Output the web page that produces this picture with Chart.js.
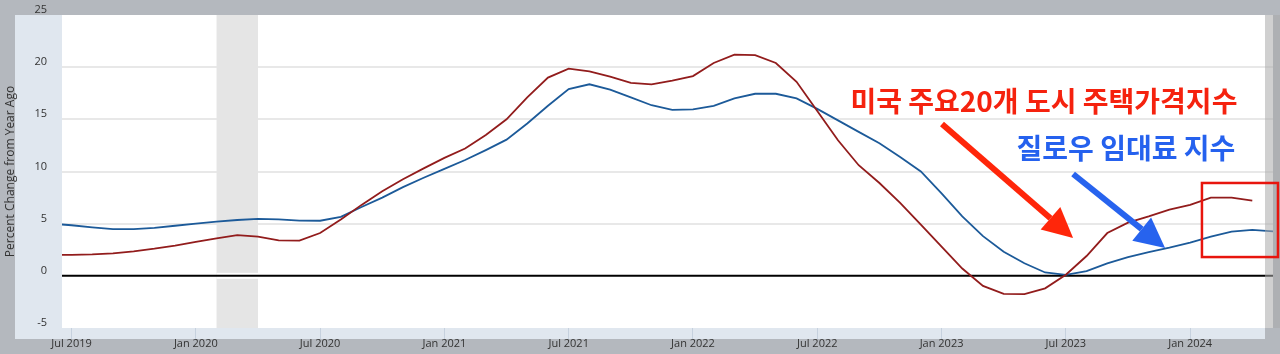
<!DOCTYPE html>
<html>
<head>
<meta charset="utf-8">
<script src="https://cdn.jsdelivr.net/npm/chart.js@4.4.1/dist/chart.umd.min.js"></script>
<style>
  html, body { margin: 0; padding: 0; background: #b4b8be; }
  #wrap { width: 1280px; height: 354px; }
</style>
</head>
<body>
<div id="wrap"><canvas id="chart" width="1280" height="354"></canvas></div>
<script>
// monthly observations, Jun 2019 .. May 2024
const months = [
  "Jun 2019", "Jul 2019", "Aug 2019", "Sep 2019", "Oct 2019", "Nov 2019", "Dec 2019",
  "Jan 2020", "Feb 2020", "Mar 2020", "Apr 2020", "May 2020", "Jun 2020",
  "Jul 2020", "Aug 2020", "Sep 2020", "Oct 2020", "Nov 2020", "Dec 2020",
  "Jan 2021", "Feb 2021", "Mar 2021", "Apr 2021", "May 2021", "Jun 2021",
  "Jul 2021", "Aug 2021", "Sep 2021", "Oct 2021", "Nov 2021", "Dec 2021",
  "Jan 2022", "Feb 2022", "Mar 2022", "Apr 2022", "May 2022", "Jun 2022",
  "Jul 2022", "Aug 2022", "Sep 2022", "Oct 2022", "Nov 2022", "Dec 2022",
  "Jan 2023", "Feb 2023", "Mar 2023", "Apr 2023", "May 2023", "Jun 2023",
  "Jul 2023", "Aug 2023", "Sep 2023", "Oct 2023", "Nov 2023", "Dec 2023",
  "Jan 2024", "Feb 2024", "Mar 2024", "Apr 2024", "May 2024"
];

// Zillow rent index, % change from year ago (Jun 2019 .. May 2024)
const zillowRent = [
  5.0, 4.85, 4.65, 4.48, 4.47, 4.6, 4.8,
  5.0, 5.2, 5.35, 5.45, 5.42, 5.3,
  5.28, 5.65, 6.6, 7.5, 8.5, 9.4,
  10.25, 11.1, 12.05, 13.05, 14.6, 16.3,
  17.9, 18.36, 17.85, 17.1, 16.35, 15.9,
  15.95, 16.3, 17.0, 17.45, 17.45, 17.0,
  16.0, 14.9, 13.8, 12.7, 11.4, 10.0,
  7.9, 5.7, 3.8, 2.3, 1.2, 0.32,
  0.1, 0.45, 1.2, 1.8, 2.27, 2.7,
  3.18, 3.76, 4.24, 4.4, 4.27
];

// Case-Shiller 20-city home price index, % change from year ago (Jun 2019 .. Apr 2024)
const caseShiller20 = [
  2.0, 2.0, 2.05, 2.15, 2.35, 2.6, 2.9,
  3.25, 3.6, 3.9, 3.75, 3.4, 3.38,
  4.1, 5.4, 6.8, 8.1, 9.25, 10.3,
  11.3, 12.2, 13.5, 15.0, 17.1, 19.0,
  19.85, 19.6, 19.1, 18.5, 18.35, 18.7,
  19.15, 20.4, 21.2, 21.15, 20.4, 18.6,
  15.8, 13.0, 10.6, 8.9, 7.0, 4.9,
  2.8, 0.7, -0.96, -1.72, -1.75, -1.2,
  0.1, 1.9, 4.1, 5.1, 5.7, 6.35,
  6.8, 7.5, 7.5, 7.2
];

const tickLabels = ["Jul 2019", "Jan 2020", "Jul 2020", "Jan 2021", "Jul 2021",
                    "Jan 2022", "Jul 2022", "Jan 2023", "Jul 2023", "Jan 2024"];
const yTicks = [-5, 0, 5, 10, 15, 20, 25];
const recession = ["Feb 2020", "Apr 2020"];

// annotation anchors in data units (month index, percent)
const redNote = { text: "미국 주요20개 도시 주택가격지수", x: 47.94, y: 16.76 };
const blueNote = { text: "질로우 임대료 지수", x: 51.9, y: 12.25 };
const redArrow = { from: [43.02, 14.55], to: [49.35, 3.63] };
const blueArrow = { from: [49.35, 9.76], to: [53.79, 2.67] };
const highlightBox = { x0: 55.57, x1: 59.24, y0: 8.9, y1: 1.8 };

const toPoints = (arr) => arr.map((v, i) => ({ x: i, y: v }));

function drawArrow(ctx, xs, ys, a, color) {
  const x0 = xs.getPixelForValue(a.from[0]), y0 = ys.getPixelForValue(a.from[1]);
  const x1 = xs.getPixelForValue(a.to[0]), y1 = ys.getPixelForValue(a.to[1]);
  const ang = Math.atan2(y1 - y0, x1 - x0);
  const headLen = 30, headHalf = 15;
  const bx = x1 - headLen * Math.cos(ang), by = y1 - headLen * Math.sin(ang);
  ctx.save();
  ctx.strokeStyle = color;
  ctx.fillStyle = color;
  ctx.lineWidth = 6;
  ctx.beginPath();
  ctx.moveTo(x0, y0);
  ctx.lineTo(bx, by);
  ctx.stroke();
  ctx.beginPath();
  ctx.moveTo(x1, y1);
  ctx.lineTo(bx + headHalf * Math.sin(ang), by - headHalf * Math.cos(ang));
  ctx.lineTo(bx - headHalf * Math.sin(ang), by + headHalf * Math.cos(ang));
  ctx.closePath();
  ctx.fill();
  ctx.restore();
}

const fredFrame = {
  id: "fredFrame",
  beforeDraw(chart) {
    const { ctx, chartArea: a } = chart;
    ctx.save();
    ctx.fillStyle = "#b4b8be";
    ctx.fillRect(0, 0, chart.width, chart.height);
    ctx.fillStyle = "#e0e7ef";
    ctx.fillRect(a.left - 47, a.top, a.right - 8 - (a.left - 47), a.bottom + 11 - a.top);
    ctx.fillStyle = "#ffffff";
    ctx.fillRect(a.left, a.top, a.right - a.left, a.bottom - a.top);
    ctx.restore();
  },
  beforeDatasetsDraw(chart) {
    const { ctx, chartArea: a, scales } = chart;
    const xs = scales.x, ys = scales.y;
    ctx.save();
    const r0 = xs.getPixelForValue(months.indexOf(recession[0]));
    const r1 = xs.getPixelForValue(months.indexOf(recession[1]));
    ctx.fillStyle = "#e5e5e5";
    ctx.fillRect(r0, a.top, r1 - r0, a.bottom - a.top);
    const z = ys.getPixelForValue(0);
    ctx.fillStyle = "#ffffff";
    ctx.fillRect(r0, z - 3, r1 - r0, 6);
    ctx.strokeStyle = "#000000";
    ctx.lineWidth = 2;
    ctx.beginPath();
    ctx.moveTo(a.left, z);
    ctx.lineTo(a.right, z);
    ctx.stroke();
    ctx.restore();
  },
  afterDatasetsDraw(chart) {
    const { ctx, chartArea: a, scales } = chart;
    const xs = scales.x, ys = scales.y;
    ctx.save();
    ctx.fillStyle = "rgba(170,170,170,0.55)";
    ctx.fillRect(a.right - 8, a.top, chart.width - (a.right - 8), a.bottom - a.top);

    ctx.font = "bold 28px 'Noto Sans CJK KR', sans-serif";
    ctx.textAlign = "center";
    ctx.textBaseline = "middle";
    ctx.fillStyle = "#f5220e";
    ctx.fillText(redNote.text, xs.getPixelForValue(redNote.x), ys.getPixelForValue(redNote.y));
    ctx.fillStyle = "#2561ee";
    ctx.fillText(blueNote.text, xs.getPixelForValue(blueNote.x), ys.getPixelForValue(blueNote.y));

    drawArrow(ctx, xs, ys, redArrow, "#ff260a");
    drawArrow(ctx, xs, ys, blueArrow, "#2763ee");

    const bx0 = xs.getPixelForValue(highlightBox.x0), bx1 = xs.getPixelForValue(highlightBox.x1);
    const by0 = ys.getPixelForValue(highlightBox.y0), by1 = ys.getPixelForValue(highlightBox.y1);
    ctx.strokeStyle = "#e8150d";
    ctx.lineWidth = 2.5;
    ctx.strokeRect(bx0, by0, bx1 - bx0, by1 - by0);
    ctx.restore();
  }
};

new Chart(document.getElementById("chart"), {
  type: "line",
  data: {
    datasets: [
      {
        label: "Case-Shiller 20-City",
        data: toPoints(caseShiller20),
        borderColor: "#921c1c",
        borderWidth: 1.8,
        pointRadius: 0,
        tension: 0,
      },
      {
        label: "Zillow Rent Index",
        data: toPoints(zillowRent),
        borderColor: "#1c5a99",
        borderWidth: 1.8,
        pointRadius: 0,
        tension: 0,
      },
    ],
  },
  options: {
    responsive: false,
    animation: false,
    events: [],
    layout: { padding: { top: 15, right: 7, left: 0, bottom: 0 } },
    plugins: {
      legend: { display: false },
      tooltip: { enabled: false },
    },
    scales: {
      x: {
        type: "linear",
        min: 0.54,
        max: 59,
        afterFit: (s) => {
          s.height = 26;
          s.paddingLeft = 0;
          s.paddingRight = 0;
        },
        afterBuildTicks: (s) => {
          s.ticks = tickLabels.map((l) => ({ value: months.indexOf(l) }));
        },
        grid: {
          drawOnChartArea: false,
          drawTicks: true,
          tickLength: 11,
          color: "#c6d1de",
        },
        border: { display: false },
        ticks: {
          padding: -2,
          maxRotation: 0,
          autoSkip: false,
          color: "#333333",
          font: { family: "'Open Sans', sans-serif", size: 11 },
          callback: (v) => months[v],
        },
      },
      y: {
        min: -5,
        max: 25,
        afterFit: (s) => {
          s.width = 62;
          s.paddingTop = 0;
          s.paddingBottom = 0;
        },
        afterBuildTicks: (s) => {
          s.ticks = yTicks.map((v) => ({ value: v }));
        },
        grid: {
          drawTicks: false,
          lineWidth: 2,
          color: (c) => (c.tick && (c.tick.value === 0 || c.tick.value === -5 || c.tick.value === 25)) ? "rgba(0,0,0,0)" : "#e8e8e8",
        },
        border: { display: false },
        title: {
          display: true,
          text: "Percent Change from Year Ago",
          color: "#333333",
          padding: { top: 3, bottom: 0 },
          font: { family: "'Open Sans', sans-serif", size: 12 },
        },
        ticks: {
          padding: 15,
          labelOffset: -5,
          color: "#333333",
          font: { family: "'Open Sans', sans-serif", size: 11 },
        },
      },
    },
  },
  plugins: [fredFrame],
});
</script>
</body>
</html>
